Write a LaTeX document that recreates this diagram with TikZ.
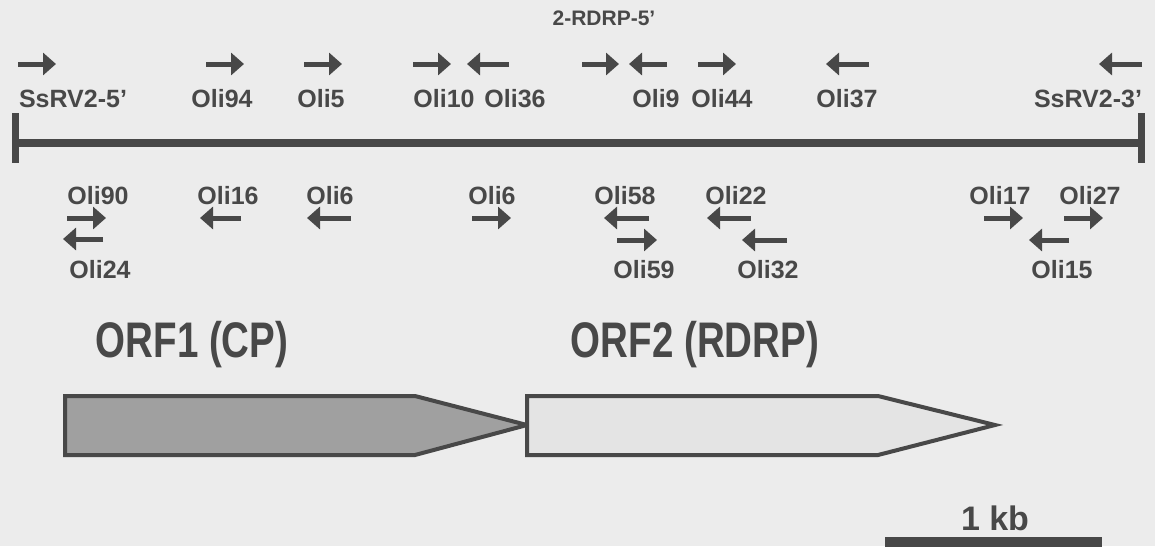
\documentclass[tikz,border=0pt]{standalone}
\usepackage{fontspec}
\setmainfont{Liberation Sans}
\usetikzlibrary{arrows.meta}
\definecolor{bg}{RGB}{236,236,236}
\definecolor{ink}{RGB}{72,72,72}
\definecolor{orfone}{RGB}{160,160,160}
\definecolor{orftwo}{RGB}{228,228,228}
\tikzset{
  primer/.style={ink, line width=5pt, -{Triangle[length=13pt,width=22pt]}},
  lbl/.style={text=ink, inner sep=0pt, font=\fontsize{25}{25}\selectfont\bfseries},
  biglbl/.style={text=ink, inner sep=0pt, font=\fontsize{50}{50}\selectfont\bfseries},
  orfbox/.style={draw=ink, line width=4pt, line join=miter},
}
\begin{document}
\begin{tikzpicture}[x=1pt,y=-1pt]
\fill[bg] (0,0) rectangle (1155,546);
\useasboundingbox (0,0) rectangle (1155,546);
% genome line
\coordinate (g5) at (15,143);
\coordinate (g3) at (1141,143);
\draw[ink, line width=8pt] (g5) -- (g3);
\draw[ink, line width=7pt] (15,113) -- (15,163);
\draw[ink, line width=7pt] (1141,113) -- (1141,163);
% top primers
\draw[primer] (18,64) -- (56,64);
\node[lbl] (s5) at (73,99) {SsRV2-5’};
\draw[primer] (206,64) -- (244,64);
\node[lbl] (o94) at (222,99) {Oli94};
\draw[primer] (304,64) -- (342,64);
\node[lbl] (o5) at (321,99) {Oli5};
\draw[primer] (413,64) -- (451,64);
\node[lbl] (o10) at (444,99) {Oli10};
\draw[primer] (509,64) -- (467,64);
\node[lbl] (o36) at (515,99) {Oli36};
\draw[primer] (582,64) -- (619,64);
\node[lbl, font=\fontsize{21}{21}\selectfont\bfseries] (rdrp5) at (604,18) {2-RDRP-5’};
\draw[primer] (667,64) -- (629,64);
\node[lbl] (o9) at (656,99) {Oli9};
\draw[primer] (698,64) -- (736,64);
\node[lbl] (o44) at (722,99) {Oli44};
\draw[primer] (869,64) -- (826,64);
\node[lbl] (o37) at (847,99) {Oli37};
\draw[primer] (1142,64) -- (1099,64);
\node[lbl] (s3) at (1088,99) {SsRV2-3’};
% bottom primers
\node[lbl] (o90) at (98,196) {Oli90};
\draw[primer] (67,218) -- (106,218);
\draw[primer] (103,239) -- (63,239);
\node[lbl] (o24) at (100,270) {Oli24};
\node[lbl] (o16) at (228,196) {Oli16};
\draw[primer] (241,218) -- (200,218);
\node[lbl] (o6a) at (330,196) {Oli6};
\draw[primer] (351,218) -- (307,218);
\node[lbl] (o6b) at (492,196) {Oli6};
\draw[primer] (472,218) -- (511,218);
\node[lbl] (o58) at (625,196) {Oli58};
\draw[primer] (649,218) -- (604,218);
\draw[primer] (617,240) -- (657,240);
\node[lbl] (o59) at (644,270) {Oli59};
\node[lbl] (o22) at (736,196) {Oli22};
\draw[primer] (751,218) -- (707,218);
\draw[primer] (787,240) -- (742,240);
\node[lbl] (o32) at (768,270) {Oli32};
\node[lbl] (o17) at (1000,196) {Oli17};
\draw[primer] (984,218) -- (1023,218);
\node[lbl] (o27) at (1090,196) {Oli27};
\draw[primer] (1064,218) -- (1103,218);
\draw[primer] (1069,240) -- (1029,240);
\node[lbl] (o15) at (1062,270) {Oli15};
% ORFs
\draw[orfbox, fill=orfone] (65,396) -- (415,396) -- (527,425) -- (415,455) -- (65,455) -- cycle;
\draw[orfbox, fill=orftwo] (527,396) -- (878,396) -- (995,425) -- (878,455) -- (527,455) -- cycle;
\node[biglbl] (orf1) at (192,345) {\scalebox{0.77}[1]{ORF1 (CP)}};
\node[biglbl] (orf2) at (695,345) {\scalebox{0.77}[1]{ORF2 (RDRP)}};
% scale
\node[lbl, font=\fontsize{34}{34}\selectfont\bfseries] (kb) at (995,518) {1 kb};
\fill[ink] (885,537) rectangle (1102,550);
\end{tikzpicture}
\end{document}
